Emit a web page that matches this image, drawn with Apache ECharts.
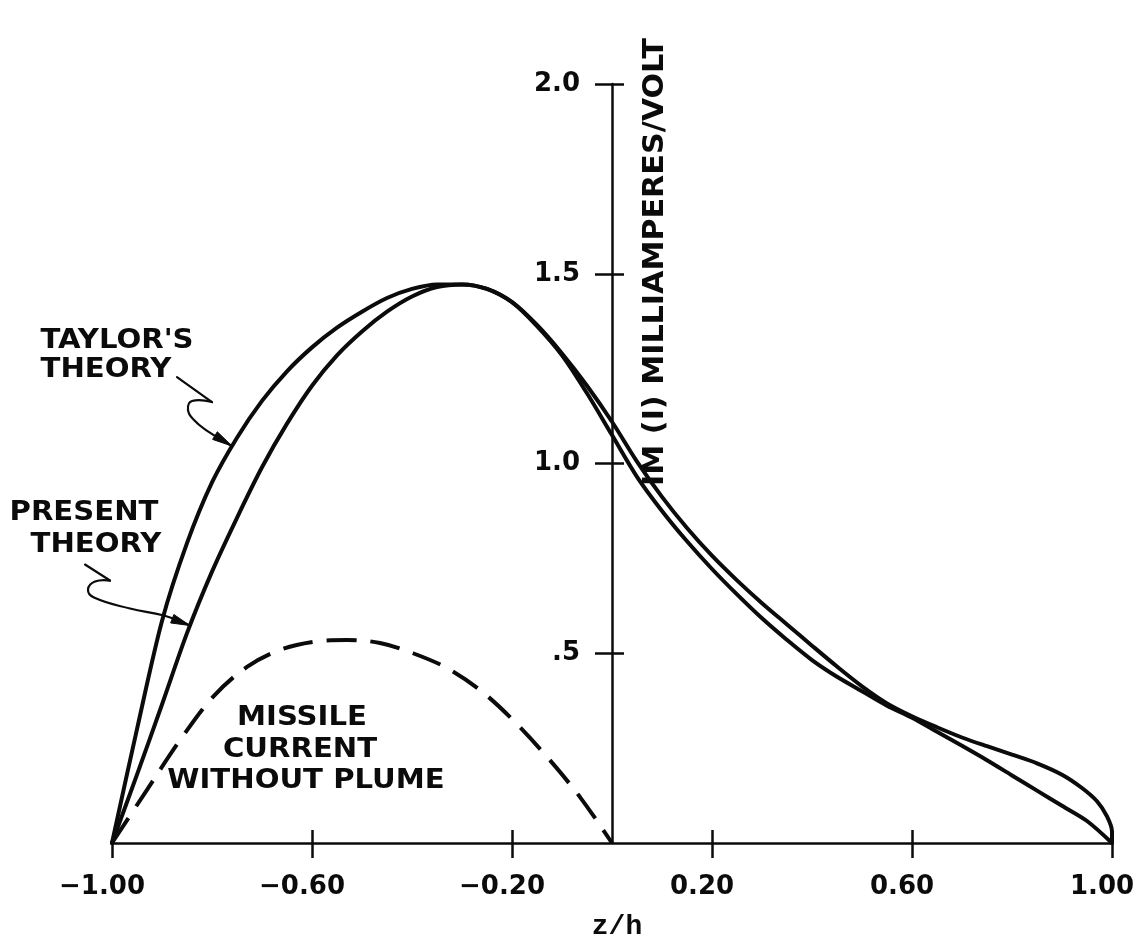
<!DOCTYPE html>
<html>
<head>
<meta charset="utf-8">
<title>Current distribution along the missile</title>
<script src="https://cdn.jsdelivr.net/npm/echarts@6/dist/echarts.min.js"></script>
<style>
  html, body { margin: 0; padding: 0; background: #ffffff; }
  #chart { width: 1143px; height: 939px; }
</style>
</head>
<body>
<div id="chart"></div>
<script>
// Axis ticks
const zTicks = [-1.0, -0.6, -0.2, 0.2, 0.6, 1.0];
const zInnerTicks = [-0.6, -0.2, 0.2, 0.6];
const iTicks = [0.5, 1.0, 1.5, 2.0];

// Taylor's theory
const taylorZ = [-1.0, -0.95, -0.9, -0.85, -0.8, -0.75, -0.7, -0.65, -0.6, -0.55, -0.5, -0.45,
  -0.4, -0.35, -0.3, -0.25, -0.2, -0.15, -0.1, -0.05, 0.0, 0.05, 0.1, 0.15, 0.2, 0.25, 0.3,
  0.35, 0.4, 0.45, 0.5, 0.55, 0.6, 0.65, 0.7, 0.75, 0.8, 0.85, 0.9, 0.94, 0.97, 0.99, 1.0, 1.0];
const taylorI = [0.0, 0.30, 0.585, 0.79, 0.95, 1.068, 1.165, 1.243, 1.306, 1.358, 1.40, 1.436,
  1.46, 1.472, 1.472, 1.46, 1.425, 1.365, 1.29, 1.205, 1.11, 1.005, 0.912, 0.83, 0.757, 0.692, 0.632,
  0.576, 0.52, 0.465, 0.413, 0.368, 0.334, 0.305, 0.278, 0.255, 0.233, 0.21, 0.18, 0.145, 0.11, 0.07, 0.03, 0.0];

// Present theory
const presentZ = [-1.0, -0.95, -0.9, -0.85, -0.8, -0.75, -0.7, -0.65, -0.6, -0.55, -0.5, -0.45,
  -0.4, -0.35, -0.3, -0.25, -0.2, -0.15, -0.1, -0.05, 0.0, 0.05, 0.1, 0.15, 0.2, 0.25, 0.3,
  0.35, 0.4, 0.45, 0.5, 0.55, 0.6, 0.65, 0.7, 0.75, 0.8, 0.85, 0.9, 0.95, 1.0];
const presentI = [0.0, 0.18, 0.365, 0.553, 0.715, 0.857, 0.99, 1.105, 1.205, 1.285, 1.348, 1.40,
  1.44, 1.465, 1.472, 1.46, 1.425, 1.362, 1.285, 1.185, 1.075, 0.965, 0.875, 0.795, 0.722, 0.655, 0.592,
  0.535, 0.482, 0.438, 0.40, 0.362, 0.33, 0.293, 0.256, 0.218, 0.178, 0.138, 0.098, 0.058, 0.0];

// Missile current without plume
const missileZ = [-1.0, -0.93, -0.864, -0.798, -0.73, -0.664, -0.598, -0.53, -0.464, -0.398,
  -0.33, -0.264, -0.198, -0.13, -0.064, 0.0];
const missileI = [0.0, 0.14, 0.271, 0.385, 0.464, 0.509, 0.53, 0.535, 0.527, 0.50,
  0.461, 0.403, 0.324, 0.227, 0.121, 0.0];

const INK = '#0b0b0b';
const zip = (xs, ys) => xs.map((x, k) => [x, ys[k]]);

const zLabel = v => {
  const r = Math.round(v * 100) / 100;
  return (r < 0 ? '\u2212' : '') + Math.abs(r).toFixed(2);
};
const iLabel = v => (Math.round(v * 10) / 10).toFixed(1).replace(/^0/, '');

const chart = echarts.init(document.getElementById('chart'), null, { renderer: 'canvas' });

const GRID = { left: 112, right: 31, top: 84, bottom: 96 };
// The current axis stands at z/h = 0, half way across the plot.
const AXIS_SHIFT = -(1143 - GRID.left - GRID.right) / 2;

const tickStyle = { color: INK, width: 2.5 };
const labelFont = { fontFamily: 'DejaVu Sans', fontWeight: 'bold', fontSize: 26, color: INK };

const option = {
  animation: false,
  backgroundColor: '#ffffff',
  grid: Object.assign({ containLabel: false, outerBoundsMode: 'none' }, GRID),
  xAxis: [
    {
      type: 'value', min: -1, max: 1, interval: 0.4, position: 'bottom',
      axisLine: { show: true, onZero: false, lineStyle: { color: INK, width: 2.5 } },
      axisTick: { show: true, length: 15, customValues: zTicks, lineStyle: tickStyle },
      axisLabel: Object.assign({ margin: 31, customValues: zTicks, formatter: zLabel,
        padding: [0, 20, 0, 0] }, labelFont),
      splitLine: { show: false },
      name: 'z/h', nameLocation: 'middle', nameGap: 70,
      nameTextStyle: { fontFamily: 'Liberation Mono', fontWeight: 'bold', fontSize: 28, color: INK,
        padding: [0, 0, 0, 10] }
    },
    {
      type: 'value', min: -1, max: 1, interval: 0.4, position: 'bottom',
      axisLine: { show: false, onZero: false },
      axisTick: { show: true, inside: true, length: 13, customValues: zInnerTicks, lineStyle: tickStyle },
      axisLabel: { show: false },
      splitLine: { show: false }
    }
  ],
  yAxis: [
    {
      type: 'value', min: 0, max: 2, interval: 0.5, position: 'left', offset: AXIS_SHIFT,
      axisLine: { show: true, onZero: false, lineStyle: { color: INK, width: 2.5 } },
      axisTick: { show: true, length: 17, customValues: iTicks, lineStyle: tickStyle },
      axisLabel: Object.assign({ margin: 32, customValues: iTicks, formatter: iLabel,
        hideOverlap: false }, labelFont),
      splitLine: { show: false }
    },
    {
      type: 'value', min: 0, max: 2, interval: 0.5, position: 'right', offset: AXIS_SHIFT,
      axisLine: { show: false, onZero: false },
      axisTick: { show: true, length: 12, customValues: iTicks, lineStyle: tickStyle },
      axisLabel: { show: false },
      splitLine: { show: false }
    }
  ],
  series: [
    {
      name: "Taylor's theory", type: 'line', xAxisIndex: 0, yAxisIndex: 0,
      data: zip(taylorZ, taylorI), symbol: 'none', smooth: 0.3, clip: false,
      lineStyle: { color: INK, width: 4, cap: 'round', join: 'round' }, z: 3
    },
    {
      name: 'Present theory', type: 'line', xAxisIndex: 0, yAxisIndex: 0,
      data: zip(presentZ, presentI), symbol: 'none', smooth: 0.3, clip: false,
      lineStyle: { color: INK, width: 4, cap: 'round', join: 'round' }, z: 3
    },
    {
      name: 'Missile current without plume', type: 'line', xAxisIndex: 0, yAxisIndex: 0,
      data: zip(missileZ, missileI), symbol: 'none', smooth: 0.35, clip: false,
      lineStyle: { color: INK, width: 4, type: [30, 14], cap: 'butt' }, z: 3
    }
  ]
};

chart.setOption(option);

// Annotations are anchored in data space so they follow the axes.
const at = (z, i) => chart.convertToPixel({ xAxisIndex: 0, yAxisIndex: 0 }, [z, i]);

function label(text, z, i, opts) {
  const p = at(z, i);
  const o = opts || {};
  return {
    type: 'text', x: p[0], y: p[1], rotation: o.rotation || 0,
    scaleX: o.scaleX || 1.08, z: 10,
    style: {
      text: text, fill: INK,
      font: (o.font || 'bold 27px "DejaVu Sans"'),
      align: 'center', verticalAlign: 'middle',
      textAlign: 'center', textVerticalAlign: 'middle'
    }
  };
}

function arrowHead(tip, from, len, half) {
  const dx = tip[0] - from[0], dy = tip[1] - from[1];
  const n = Math.hypot(dx, dy), ux = dx / n, uy = dy / n;
  const bx = tip[0] - ux * len, by = tip[1] - uy * len;
  return [[tip[0], tip[1]], [bx - uy * half, by + ux * half], [bx + uy * half, by - ux * half]];
}

function leader(tipZ, tipI, straight, squiggle, headLen, headHalf) {
  const t = at(tipZ, tipI);
  const sh = pts => pts.map(d => [t[0] + d[0], t[1] + d[1]]);
  const line = sh(straight);
  const curl = sh(squiggle).concat([[t[0], t[1]]]);
  const lineStyle = { stroke: INK, lineWidth: 2.2, fill: null, lineCap: 'round', lineJoin: 'round' };
  return [
    { type: 'polyline', z: 10, shape: { points: line }, style: lineStyle },
    { type: 'polyline', z: 10, shape: { points: curl, smooth: 0.45 }, style: lineStyle },
    { type: 'polygon', z: 11, shape: { points: arrowHead(t, curl[curl.length - 2], headLen, headHalf) },
      style: { fill: INK, stroke: INK, lineWidth: 1 } }
  ];
}

const graphics = [].concat(
  [
    label("TAYLOR'S", -0.99, 1.323),
    label('THEORY', -1.012, 1.246),
    label('PRESENT', -1.056, 0.870),
    label('THEORY', -1.032, 0.785),
    label('MISSILE', -0.62, 0.329),
    label('CURRENT', -0.624, 0.245),
    label('WITHOUT PLUME', -0.612, 0.163),
    label('IM (I) MILLIAMPERES/VOLT', 0.086, 1.531,
      { rotation: Math.PI / 2, scaleX: 1.04, font: 'bold 29px "DejaVu Sans"' })
  ],
  leader(-0.76, 1.046,
    [[-55, -69], [-20, -44]],
    [[-20, -44], [-40, -45], [-44, -36], [-38, -26], [-26, -16]], 20, 4.5),
  leader(-0.844, 0.573,
    [[-105, -61], [-80, -45]],
    [[-80, -45], [-95, -44], [-102, -36], [-96, -28], [-60, -17], [-26, -10]], 19, 4.5)
);

chart.setOption({ graphic: { elements: graphics } });
</script>
</body>
</html>
